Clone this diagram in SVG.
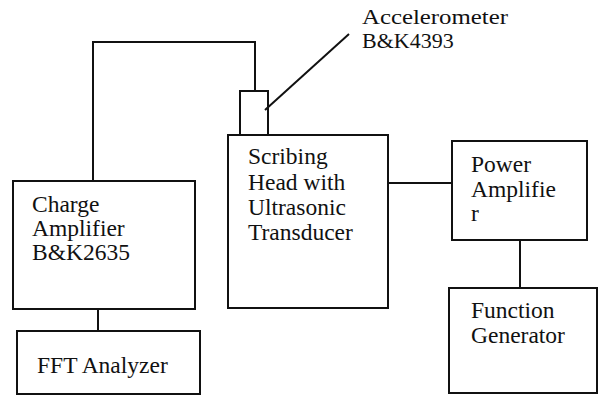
<svg xmlns="http://www.w3.org/2000/svg" width="599" height="396" viewBox="0 0 599 396">
<style>
.box{fill:none;stroke:#111;stroke-width:2}
.wire{fill:none;stroke:#111;stroke-width:2}
text{font-family:"Liberation Serif","Times New Roman",serif;font-size:23.5px;fill:#111}
.acc{font-size:22px}
</style>
<rect width="599" height="396" fill="#fff"/>
<g id="connectors">
<path class="wire" d="M93 181 V42 H255 V91"/>
<path class="wire" d="M265 110 L349 34"/>
<path class="wire" d="M98 309 V331"/>
<path class="wire" d="M388 183 H452"/>
<path class="wire" d="M520 240 V288"/>
</g>
<g id="accelerometer">
<rect class="box" x="240" y="91" width="28" height="44"/>
<text class="acc" x="362" y="24" textLength="146" lengthAdjust="spacingAndGlyphs">Accelerometer</text>
<text class="acc" x="362" y="48">B&amp;K4393</text>
</g>
<g id="charge-amplifier">
<rect class="box" x="13" y="181" width="182" height="128"/>
<text x="32" y="212">Charge</text>
<text x="32" y="236">Amplifier</text>
<text x="32" y="260">B&amp;K2635</text>
</g>
<g id="fft-analyzer">
<rect class="box" x="17" y="331" width="183" height="63"/>
<text x="37" y="373">FFT Analyzer</text>
</g>
<g id="scribing-head">
<rect class="box" x="228" y="135" width="160" height="173"/>
<text x="248" y="164">Scribing</text>
<text x="248" y="190">Head with</text>
<text x="248" y="215">Ultrasonic</text>
<text x="248" y="240">Transducer</text>
</g>
<g id="power-amplifier">
<rect class="box" x="452" y="141" width="135" height="99"/>
<text x="471" y="172">Power</text>
<text x="471" y="197">Amplifie</text>
<text x="471" y="221">r</text>
</g>
<g id="function-generator">
<rect class="box" x="449" y="288" width="148" height="105"/>
<text x="471" y="318">Function</text>
<text x="471" y="343">Generator</text>
</g>
</svg>
